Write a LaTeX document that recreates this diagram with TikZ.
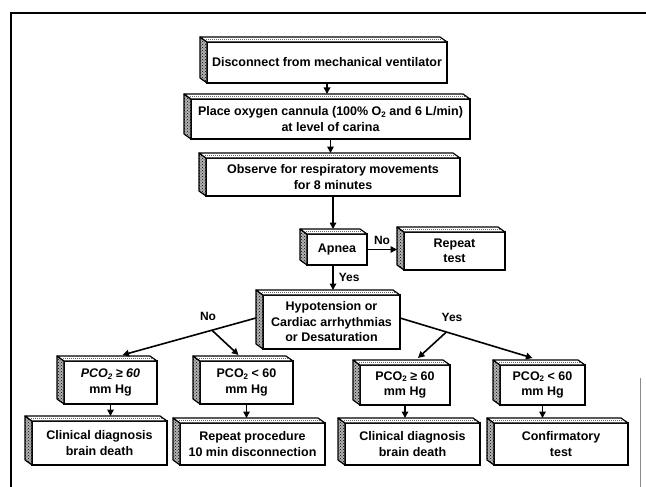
\documentclass[tikz,border=0pt]{standalone}
\usepackage{fontspec}
\setmainfont{Liberation Sans}
\usetikzlibrary{calc,patterns,arrows.meta}
\newcommand\lowtwo{{\fontsize{8}{8}\selectfont\raisebox{-1.5pt}{2}}}
\newcommand\tdbox[6]{%
  \pgfmathsetmacro\bw{#4-#2}\pgfmathsetmacro\bh{#5-#3}%
  \node[box, minimum width=\bw pt, minimum height=\bh pt] (#1) at ({(#2+#4)/2},{(#3+#5)/2}) {#6};
  \filldraw[sideface] (#1.north west) -- ++(-7,-5) -- ($(#1.south west)+(-7,-5)$) -- (#1.south west) -- cycle;
  \filldraw[topface] (#1.north west) -- ++(-7,-5) -- ($(#1.north east)+(-7,-5)$) -- (#1.north east) -- cycle;
  \draw[black!60, line width=0.6pt, dash pattern=on 1.2pt off 0.8pt] ($(#1.north west)+(-3,-2.5)$) -- ($(#1.north east)+(-4,-2.5)$);
}
\begin{document}
\begin{tikzpicture}[x=1pt,y=-1pt,
  box/.style={draw, line width=1.6pt, rectangle, inner sep=0pt, outer sep=0pt, align=center,
    font=\fontsize{12.5}{15.5}\selectfont\bfseries},
  sideface/.style={draw, line width=1.2pt, line join=round, fill=black!30, postaction={pattern=crosshatch dots, pattern color=black}},
  topface/.style={draw, line width=1.2pt, line join=round, fill=white},
  arr/.style={line width=1.6pt, -{Triangle[length=6.5pt,width=6.5pt]}},
  lbl/.style={font=\fontsize{12}{14}\selectfont\bfseries, inner sep=1pt}]
\useasboundingbox (0,0) rectangle (646,487);
% frame
\draw[line width=1.8pt] (11,487) -- (11,13) -- (646,13);
\draw[black!45, line width=0.8pt] (640,378) -- (640,487);
% boxes
\tdbox{b1}{207}{42}{447}{83}{Disconnect from mechanical ventilator}
\tdbox{b2}{191}{99}{470}{139}{Place oxygen cannula (100\% O\lowtwo\ and 6 L/min)\\at level of carina}
\tdbox{b3}{206}{158}{460}{196}{Observe for respiratory movements\\for 8 minutes}
\tdbox{apnea}{307}{234}{367}{265}{Apnea}
\tdbox{rep}{404}{232}{505}{270}{Repeat\\test}
\tdbox{hypo}{263}{295}{400}{349}{Hypotension or\\Cardiac arrhythmias\\or Desaturation}
\tdbox{pa}{64}{361}{157}{404}{\itshape PCO\lowtwo\ ≥ 60\\mm Hg}
\tdbox{pb}{200}{361}{293}{404}{PCO\lowtwo\ < 60\\mm Hg}
\tdbox{pc}{360}{365}{450}{405}{PCO\lowtwo\ ≥ 60\\mm Hg}
\tdbox{pd}{500}{365}{585}{405}{PCO\lowtwo\ < 60\\mm Hg}
\tdbox{ra}{32}{421}{167}{465}{Clinical diagnosis\\brain death}
\tdbox{rb}{180}{423}{325}{465}{Repeat procedure\\10 min disconnection}
\tdbox{rc}{345}{423}{480}{465}{Clinical diagnosis\\brain death}
\tdbox{rd}{494}{423}{628}{465}{Confirmatory\\test}
% vertical connectors
\draw[arr] (b1.south) -- ($(b1.south |- b2.north)+(0,-5)$);
\draw[arr] (b2.south) -- ($(b2.south |- b3.north)+(0,-5)$);
\coordinate (aptop) at ($(apnea.north)+(-4,0)$);
\draw[arr] (b3.south -| aptop) -- ($(aptop)+(0,-5)$);
\draw[arr] (apnea.east) -- ($(rep.west |- apnea.east)+(-7,0)$) node[lbl, midway, above=3pt] {No};
\draw[arr] (aptop |- apnea.south) -- ($(aptop |- hypo.north)+(0,-5)$) node[lbl, midway, right=4pt] {Yes};
% left branch
\coordinate (hl) at ($(hypo.west)+(-7,-4)$);
\coordinate (ea) at ($(pa.north)+(12,-6)$);
\draw[arr] (hl) -- (ea);
\coordinate (bl) at ($(hl)!0.33!(ea)$);
\draw[arr] (bl) -- ($(pb.north)+(-8,-6)$);
\node[lbl] (no2) at (208,316) {No};
% right branch
\coordinate (hr) at ($(hypo.east)+(0,-4)$);
\coordinate (ed) at ($(pd.north)+(-10,-7)$);
\draw[arr] (hr) -- (ed);
\coordinate (br) at ($(hr)!0.35!(ed)$);
\draw[arr] (br) -- ($(pc.north)+(13,-7)$);
\node[lbl] (yes2) at (452,317) {Yes};
% lower verticals
\draw[arr] (pa.south) -- ($(pa.south |- ra.north)+(0,-5)$);
\draw[arr] (pb.south) -- ($(pb.south |- rb.north)+(0,-5)$);
\draw[arr] (pc.south) -- ($(pc.south |- rc.north)+(0,-5)$);
\draw[arr] (pd.south) -- ($(pd.south |- rd.north)+(0,-5)$);
\end{tikzpicture}
\end{document}
